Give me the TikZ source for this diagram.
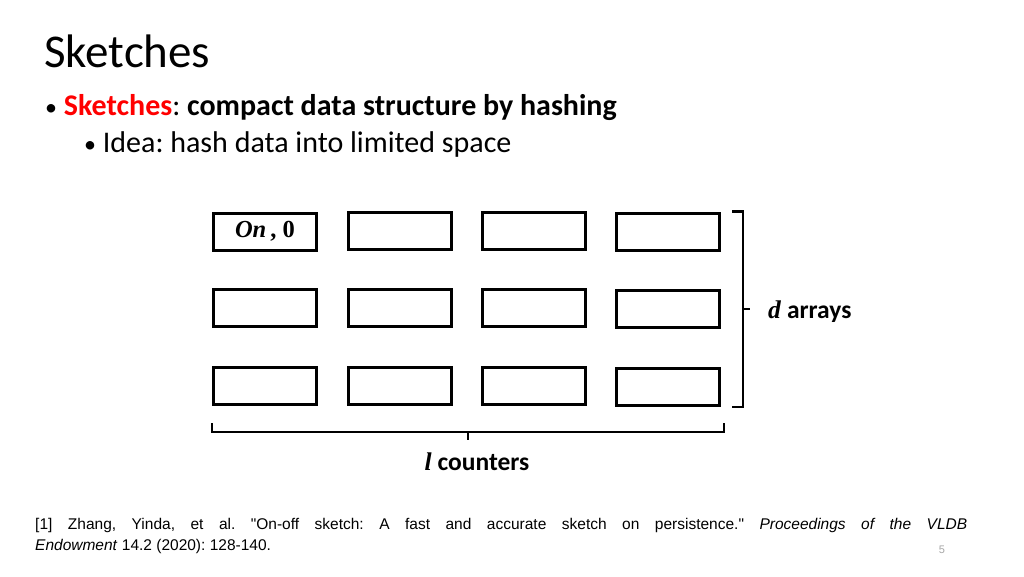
\documentclass[tikz,border=0pt]{standalone}
\usepackage{fontspec}
\setmainfont{Carlito}
\newfontfamily\refsans{Liberation Sans}
\newfontfamily\mathlike{Liberation Serif}
\usetikzlibrary{calc}
\definecolor{slidered}{RGB}{255,0,0}
\frenchspacing
\tikzset{
  counter/.style={draw, line width=3pt, minimum width=103pt, minimum height=37pt, inner sep=0pt},
  bracket/.style={line width=2.4pt, line join=miter},
  label/.style={font=\fontsize{25.5}{28}\selectfont\bfseries, inner sep=0pt}
}
\begin{document}
\begin{tikzpicture}[x=1pt,y=-1pt]

\useasboundingbox (0,0) rectangle (1024,576);

\node[anchor=base west, inner sep=0pt, font=\fontsize{47}{52}\selectfont] (title) at (44,67) {Sketches};
\node[anchor=base west, inner sep=0pt, font=\fontsize{30}{34}\selectfont] (bullet1) at (45,115)
  {{\fontsize{24}{24}\selectfont\textbullet}\ \textcolor{slidered}{\textbf{Sketches}}: \textbf{compact data structure by hashing}};
\node[anchor=base west, inner sep=0pt, font=\fontsize{30}{34}\selectfont] (bullet2) at (84,152)
  {{\fontsize{24}{24}\selectfont\textbullet}\ Idea: hash data into limited space};

\node[counter] (c11) at (265,231.5) {\fontsize{24.5}{26}\selectfont\mathlike\textbf{\textit{On}}\,\textbf{, 0}};
\node[counter] (c12) at (400,231) {};
\node[counter] (c13) at (534,231) {};
\node[counter] (c14) at (668,231.5) {};

\node[counter] (c21) at (265,308) {};
\node[counter] (c22) at (400,308) {};
\node[counter] (c23) at (534,308) {};
\node[counter] (c24) at (668,308.5) {};

\node[counter] (c31) at (265,386) {};
\node[counter] (c32) at (400,386) {};
\node[counter] (c33) at (534,386) {};
\node[counter] (c34) at (668,387) {};

\coordinate (dtop) at ([xshift=22pt]c14.north east);
\coordinate (dbot) at ([xshift=22pt]c34.south east);
\coordinate (dmid) at ($(dtop)!0.5!(dbot)$);
\draw[bracket] ([xshift=-11pt]dtop) -- (dtop) -- (dmid) -- ++(7,0) ++(-7,0) -- (dbot) -- ++(-11,0);

\coordinate (lleft) at ([yshift=-26pt]c31.south west);
\coordinate (lright) at ([xshift=3pt,yshift=-25pt]c34.south east);
\coordinate (lmid) at ($(lleft)!0.5!(lright)$);
\draw[bracket] ([yshift=9pt]lleft) -- (lleft) -- (lmid) -- ++(0,8) ++(0,-8) -- (lright) -- ++(0,-9);

\node[label, anchor=west] (darrays) at ([xshift=25pt,yshift=-2pt]dmid) {{\mathlike\textit{d}} arrays};
\node[label, anchor=base] (lcounters) at ([xshift=9pt,yshift=-38pt]lmid) {{\mathlike\textit{l}} counters};

\node[anchor=base west, inner sep=0pt, font=\refsans\fontsize{15.5}{21}\selectfont, text width=932pt, align=justify] (ref) at (35,529)
  {[1] Zhang, Yinda, et al. "On-off sketch: A fast and accurate sketch on persistence." \textit{Proceedings of the VLDB}\linebreak \textit{Endowment} 14.2 (2020): 128-140.};
\node[anchor=base, inner sep=0pt, text=gray!70, font=\refsans\fontsize{11}{12}\selectfont] (page) at (942,553) {5};

\end{tikzpicture}
\end{document}
